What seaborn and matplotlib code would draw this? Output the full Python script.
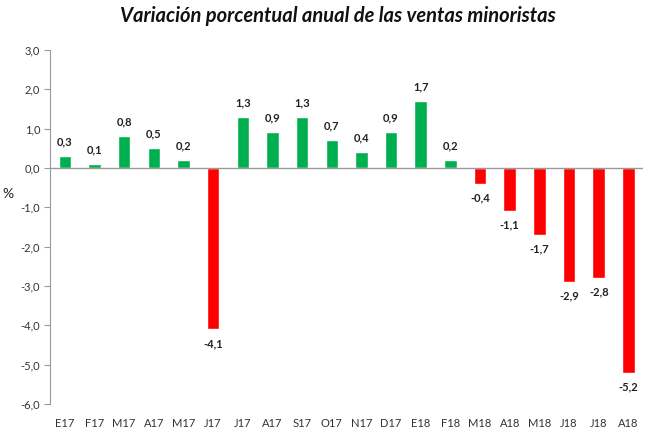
import matplotlib
matplotlib.use("Agg")
import matplotlib.pyplot as plt
import seaborn as sns
import pandas as pd

categories = ["E17", "F17", "M17", "A17", "M17", "J17", "J17", "A17", "S17", "O17",
              "N17", "D17", "E18", "F18", "M18", "A18", "M18", "J18", "J18", "A18"]
values = [0.3, 0.1, 0.8, 0.5, 0.2, -4.1, 1.3, 0.9, 1.3, 0.7,
          0.4, 0.9, 1.7, 0.2, -0.4, -1.1, -1.7, -2.9, -2.8, -5.2]
y_ticks = [3, 2, 1, 0, -1, -2, -3, -4, -5, -6]

sns.set_theme(style="white")
plt.rcParams['font.family'] = ['Lato', 'DejaVu Sans']

df = pd.DataFrame({
    "key": [f"{i:02d}" for i in range(len(categories))],
    "label": categories,
    "value": values,
})
df["sign"] = ["pos" if v >= 0 else "neg" for v in values]

fig = plt.figure(figsize=(6.57, 4.33), dpi=100)
ax = fig.add_axes([0.076, 0.067, 0.903, 0.818])

sns.barplot(data=df, x="key", y="value", hue="sign",
            palette={"pos": "#00B050", "neg": "#FF0000"}, saturation=1,
            width=0.42, dodge=False, legend=False, ax=ax)

ax.set_ylim(-6, 3)
ax.set_xlim(-0.5, len(categories) - 0.5)
ax.set_yticks(y_ticks)
ax.set_yticklabels([f"{t:.1f}".replace(".", ",") for t in y_ticks], fontsize=8, color="#333333")
ax.set_xticks(range(len(categories)))
ax.set_xticklabels(categories, fontsize=8, color="#333333")
ax.tick_params(axis="x", length=0, pad=10)
ax.tick_params(axis="y", length=4, width=0.8, color="#999999", direction="out", left=True, pad=3)

for s in ["top", "right", "bottom"]:
    ax.spines[s].set_visible(False)
ax.spines["left"].set_color("#999999")
ax.spines["left"].set_linewidth(0.8)
ax.axhline(0, color="#999999", linewidth=1.0, zorder=3)

for i, v in enumerate(values):
    txt = f"{v:.1f}".replace(".", ",")
    if v >= 0:
        ax.text(i, v + 0.22, txt, ha="center", va="bottom", fontsize=8, fontweight="bold", color="#222222")
    else:
        ax.text(i, v - 0.22, txt, ha="center", va="top", fontsize=8, fontweight="bold", color="#222222")

ax.set_xlabel("")
ax.set_ylabel("%", rotation=0, fontsize=10, color="#222222")
ax.yaxis.set_label_coords(-0.07, 0.575)

fig.suptitle("Variación porcentual anual de las ventas minoristas", x=0.515, y=0.985,
             fontsize=14.5, fontweight="bold", fontstyle="italic", color="#111111")

fig.savefig("out.png", dpi=100)
